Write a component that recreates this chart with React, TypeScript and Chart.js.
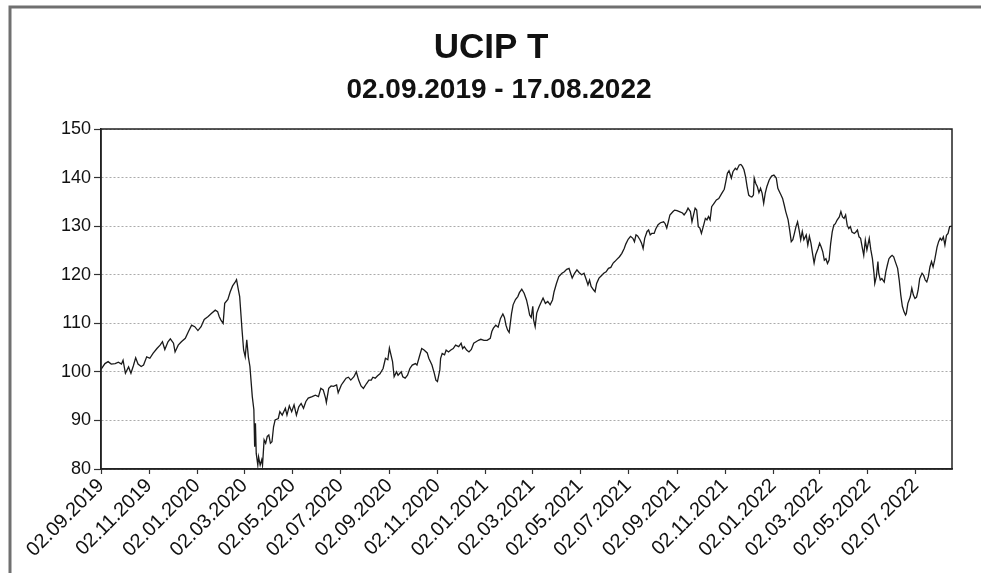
import React, { useEffect, useRef } from 'react';
import { Chart, registerables } from 'chart.js';

Chart.register(...registerables);

const titleText = 'UCIP T';
const subtitleText = '02.09.2019 - 17.08.2022';

// x axis: days since 02.09.2019 (last day 17.08.2022 = 1080)
const xMaxDay = 1080;
const tickDays = [0, 61, 122, 182, 243, 304, 366, 427, 488, 547, 608, 669, 731, 792, 853, 912, 973, 1034];
const tickLabels = [
  '02.09.2019', '02.11.2019', '02.01.2020', '02.03.2020', '02.05.2020', '02.07.2020',
  '02.09.2020', '02.11.2020', '02.01.2021', '02.03.2021', '02.05.2021', '02.07.2021',
  '02.09.2021', '02.11.2021', '02.01.2022', '02.03.2022', '02.05.2022', '02.07.2022',
];

const yMin = 80;
const yMax = 150;
const yStep = 10;

const dayOffsets = [
  0, 5, 9, 13, 18, 22, 26, 28, 31, 35, 38, 41, 44, 47, 51, 54, 58, 62, 66, 71,
  75, 78, 81, 85, 88, 92, 94, 98, 102, 107, 111, 115, 119, 123, 127, 131, 136, 140, 145, 148,
  150, 152, 155, 157, 161, 164, 167, 170, 172, 174, 176, 179, 181, 183, 185, 187, 189, 192, 194, 195,
  196, 197, 199, 200, 202, 204, 205, 207, 209, 211, 213, 215, 217, 219, 221, 225, 227, 230, 234, 236,
  239, 242, 245, 248, 251, 254, 257, 260, 263, 268, 272, 276, 279, 282, 285, 286, 289, 292, 295, 299,
  301, 305, 308, 311, 314, 317, 321, 324, 327, 330, 333, 337, 340, 343, 345, 348, 351, 354, 358, 361,
  364, 366, 370, 372, 375, 377, 381, 383, 386, 389, 392, 395, 399, 401, 404, 407, 410, 414, 416, 420,
  423, 425, 427, 430, 431, 433, 436, 438, 441, 444, 447, 450, 454, 457, 459, 461, 464, 467, 470, 473,
  476, 479, 482, 486, 490, 494, 496, 498, 501, 504, 507, 510, 512, 514, 516, 518, 521, 523, 526, 529,
  531, 534, 537, 540, 542, 544, 546, 548, 549, 551, 553, 556, 559, 561, 564, 567, 570, 573, 575, 578,
  581, 585, 588, 591, 594, 596, 598, 601, 604, 607, 610, 613, 616, 618, 620, 622, 625, 627, 629, 632,
  635, 638, 641, 644, 647, 650, 652, 655, 658, 661, 664, 666, 669, 672, 675, 677, 679, 681, 684, 686,
  688, 690, 693, 695, 697, 699, 702, 704, 707, 710, 714, 716, 718, 720, 722, 726, 728, 731, 734, 738,
  740, 743, 745, 748, 750, 752, 754, 756, 758, 760, 762, 765, 767, 769, 771, 773, 775, 778, 781, 784,
  788, 791, 793, 795, 797, 800, 802, 805, 807, 810, 812, 814, 816, 818, 820, 822, 824, 826, 828, 829,
  831, 833, 835, 837, 839, 841, 843, 845, 848, 851, 854, 857, 859, 861, 863, 865, 867, 869, 872, 874,
  876, 878, 880, 882, 884, 886, 888, 890, 892, 895, 897, 899, 901, 903, 905, 907, 910, 912, 914, 916,
  918, 920, 922, 924, 926, 928, 930, 932, 934, 937, 939, 941, 943, 945, 947, 949, 951, 953, 956, 958,
  960, 962, 964, 966, 968, 970, 972, 975, 977, 979, 981, 982, 984, 986, 987, 989, 991, 994, 996, 998,
  1000, 1002, 1004, 1006, 1008, 1011, 1013, 1015, 1017, 1019, 1021, 1022, 1024, 1027, 1029, 1031, 1033, 1035, 1037, 1039,
  1042, 1044, 1046, 1048, 1050, 1052, 1054, 1056, 1058, 1061, 1063, 1065, 1067, 1069, 1071, 1073, 1075, 1077, 1080,
];

const values = [
  100.5, 101.7, 102.1, 101.6, 101.7, 102.0, 101.6, 102.4, 99.7, 101.0, 99.7, 101.2, 102.9, 101.6, 101.1, 101.4, 103.1, 102.8, 103.8, 104.8,
  105.5, 106.2, 104.6, 106.2, 106.8, 105.9, 104.1, 105.5, 106.2, 106.9, 108.3, 109.6, 109.3, 108.5, 109.3, 110.8, 111.4, 112.0, 112.7, 112.4,
  111.4, 110.7, 110.0, 114.1, 114.9, 116.5, 117.7, 118.4, 119.0, 117.2, 115.5, 108.6, 104.5, 103.1, 106.6, 103.1, 101.1, 94.9, 92.2, 84.6,
  89.4, 83.2, 80.8, 82.5, 80.8, 81.9, 80.8, 86.0, 85.3, 86.7, 87.0, 85.3, 85.6, 88.7, 90.1, 90.4, 91.8, 91.1, 92.5, 91.1,
  93.0, 91.8, 93.2, 91.1, 92.8, 93.5, 92.5, 93.9, 94.6, 94.9, 95.2, 94.9, 96.6, 96.3, 94.6, 93.7, 96.6, 97.1, 97.0, 97.3,
  95.7, 97.3, 98.0, 98.7, 98.9, 98.3, 99.0, 100.0, 98.3, 97.1, 96.6, 97.6, 98.3, 98.3, 98.9, 98.7, 99.2, 99.6, 100.7, 102.8,
  102.5, 104.9, 102.1, 99.0, 100.0, 99.3, 100.0, 99.0, 98.7, 99.3, 100.7, 101.4, 101.7, 101.4, 103.1, 104.8, 104.5, 103.9, 102.8, 101.4,
  99.7, 98.3, 98.0, 100.4, 102.8, 103.8, 103.5, 104.5, 104.1, 104.5, 104.8, 105.5, 105.2, 105.9, 104.8, 105.2, 104.5, 104.1, 104.6, 105.9,
  106.2, 106.5, 106.7, 106.5, 106.5, 106.9, 108.3, 109.0, 109.6, 109.2, 111.0, 111.9, 111.2, 109.6, 108.6, 108.1, 112.0, 113.8, 114.9, 115.5,
  116.3, 117.0, 116.2, 114.8, 113.4, 111.7, 111.2, 113.5, 110.7, 109.3, 112.1, 113.4, 114.5, 115.2, 114.1, 114.5, 113.8, 114.8, 116.5, 118.2,
  119.6, 120.3, 120.6, 121.1, 121.3, 120.3, 119.3, 120.3, 121.0, 120.4, 120.0, 120.3, 118.9, 117.9, 118.9, 117.6, 116.9, 116.5, 118.2, 119.3,
  119.8, 120.3, 120.6, 121.3, 121.5, 122.4, 122.7, 123.2, 123.7, 124.4, 125.4, 126.3, 127.3, 127.9, 127.5, 126.8, 128.2, 128.0, 127.2, 126.5,
  125.4, 127.5, 128.9, 129.2, 128.2, 128.5, 128.5, 129.4, 130.3, 130.7, 130.9, 130.5, 129.6, 130.9, 132.3, 133.0, 133.3, 133.2, 133.0, 132.7,
  132.3, 133.0, 133.7, 133.0, 130.9, 132.3, 133.7, 133.3, 129.9, 129.6, 128.5, 130.3, 131.6, 131.3, 132.0, 131.3, 134.0, 134.7, 135.4, 135.7,
  136.8, 137.6, 139.2, 140.9, 141.4, 139.9, 141.2, 141.9, 141.6, 142.6, 142.7, 142.3, 141.6, 140.2, 138.1, 136.4, 136.1, 136.0, 136.4, 139.9,
  138.8, 138.1, 136.9, 137.8, 136.8, 134.7, 136.8, 138.1, 139.5, 140.3, 140.5, 139.9, 137.8, 137.1, 136.4, 135.7, 134.4, 133.0, 131.3, 129.2,
  126.8, 127.2, 128.5, 129.9, 130.9, 129.2, 127.2, 128.9, 127.2, 128.2, 126.1, 127.9, 126.5, 124.4, 122.4, 124.1, 125.4, 126.5, 125.7, 124.7,
  123.0, 123.3, 122.3, 123.0, 126.4, 128.8, 130.2, 130.5, 131.2, 131.9, 133.0, 131.9, 131.6, 132.3, 130.2, 129.5, 129.9, 128.8, 128.5, 128.8,
  129.2, 127.8, 127.5, 125.7, 124.0, 127.1, 125.1, 127.5, 125.1, 123.3, 120.3, 118.2, 119.6, 122.7, 120.3, 118.9, 119.2, 118.5, 120.6, 122.0,
  123.3, 123.7, 124.0, 123.7, 122.7, 121.3, 118.9, 115.8, 113.5, 112.4, 111.7, 112.0, 114.1, 115.4, 117.2, 115.8, 115.1, 115.4, 116.8, 119.2,
  120.3, 119.9, 118.9, 118.5, 119.6, 121.6, 122.7, 121.6, 123.0, 125.7, 126.8, 127.5, 127.1, 127.8, 126.1, 128.1, 128.5, 129.9, 130.0,
];

const FONT = '"Liberation Sans", Arial, Helvetica, sans-serif';

const decorPlugin = {
  id: 'decor',
  beforeDraw(chart: any) {
    const { ctx, width, height } = chart;
    ctx.save();
    ctx.fillStyle = '#ffffff';
    ctx.fillRect(0, 0, width, height);
    ctx.restore();
  },
  afterDatasetsDraw(chart: any) {
    const { ctx, chartArea } = chart;
    ctx.save();
    ctx.setLineDash([]);
    ctx.strokeStyle = '#222222';
    ctx.lineWidth = 1.5;
    ctx.strokeRect(chartArea.left, chartArea.top, chartArea.right - chartArea.left, chartArea.bottom - chartArea.top);
    ctx.restore();
  },
  afterDraw(chart: any) {
    const { ctx, width, height } = chart;
    ctx.save();
    // outer frame (top and left)
    ctx.setLineDash([]);
    ctx.strokeStyle = '#707070';
    ctx.lineWidth = 3;
    ctx.beginPath();
    ctx.moveTo(width, 7);
    ctx.lineTo(10, 7);
    ctx.lineTo(10, height);
    ctx.stroke();
    // titles
    ctx.fillStyle = '#111111';
    ctx.textAlign = 'center';
    ctx.textBaseline = 'middle';
    ctx.font = `bold 35px ${FONT}`;
    ctx.fillText(titleText, 491, 48);
    ctx.font = `bold 28px ${FONT}`;
    ctx.fillText(subtitleText, 499, 90);
    ctx.restore();
  },
};

export default function App() {
  const canvasRef = useRef<HTMLCanvasElement | null>(null);

  useEffect(() => {
    const canvas = canvasRef.current;
    if (!canvas) return;
    const points = dayOffsets.map((d, i) => ({ x: d, y: values[i] }));
    const chart = new Chart(canvas, {
      type: 'line',
      data: {
        datasets: [
          {
            label: titleText,
            data: points,
            borderColor: '#1a1a1a',
            borderWidth: 1.3,
            pointRadius: 0,
            tension: 0,
            fill: false,
          },
        ],
      },
      options: {
        animation: false,
        responsive: false,
        devicePixelRatio: 1,
        layout: { padding: { left: 0, right: 29, top: 129, bottom: 0 } },
        plugins: {
          legend: { display: false },
          title: { display: false },
          tooltip: { enabled: false },
        },
        scales: {
          x: {
            type: 'linear',
            min: 0,
            max: xMaxDay,
            afterBuildTicks: (scale: any) => {
              scale.ticks = tickDays.map((v) => ({ value: v }));
            },
            afterFit: (scale: any) => {
              scale.height = 104;
            },
            ticks: {
              autoSkip: false,
              maxRotation: 45,
              minRotation: 45,
              padding: 0,
              color: '#111111',
              font: { family: FONT, size: 20 },
              callback: (value: any) => {
                const idx = tickDays.indexOf(Number(value));
                return idx >= 0 ? tickLabels[idx] : '';
              },
            },
            grid: {
              drawOnChartArea: false,
              drawTicks: true,
              tickLength: 5,
              tickColor: '#333333',
              tickWidth: 1.2,
            },
            border: { display: true, color: '#222222', width: 1.5 },
          },
          y: {
            min: yMin,
            max: yMax,
            afterFit: (scale: any) => {
              scale.width = 101;
            },
            ticks: {
              stepSize: yStep,
              padding: 3,
              color: '#111111',
              font: { family: FONT, size: 18 },
            },
            grid: {
              color: '#ababab',
              lineWidth: 1,
              tickLength: 7,
              tickColor: '#333333',
              tickBorderDash: [],
              tickWidth: 1.2,
            },
            border: { display: true, color: '#222222', width: 1.5, dash: [2, 2] },
          },
        },
      },
      plugins: [decorPlugin],
    });
    return () => chart.destroy();
  }, []);

  return (
    <canvas
      ref={canvasRef}
      width={981}
      height={573}
      style={{ position: 'fixed', left: 0, top: 0, width: '981px', height: '573px' }}
    />
  );
}
